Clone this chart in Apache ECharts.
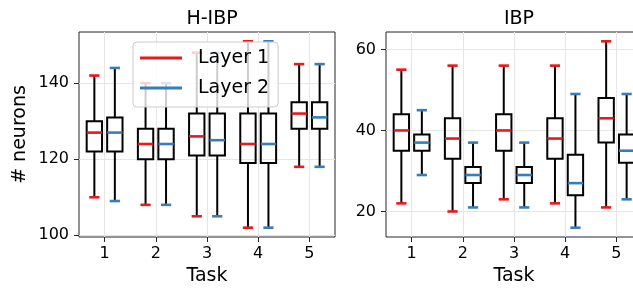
<!DOCTYPE html>
<html>
<head>
<meta charset="utf-8">
<script src="https://cdn.jsdelivr.net/npm/echarts@6/dist/echarts.min.js"></script>
<style>html,body{margin:0;padding:0;background:#fff}#c{width:633px;height:289px}</style>
</head>
<body>
<div id="c"></div>
<script>
// Each entry: [lower whisker, Q1, median, Q3, upper whisker] per task
const tasks = [1, 2, 3, 4, 5];
const taskLabels = ['1', '2', '3', '4', '5'];
const hibpLayer1 = [[110,122,127,130,142],[108,120,124,128,140],[105,121,126,132,148],[102,119,124,132,151],[118,128,132,135,145]];
const hibpLayer2 = [[109,122,127,131,144],[108,120,124,128,140],[105,121,125,132,148],[102,119,124,132,151],[118,128,131,135,145]];
const ibpLayer1 = [[22,35,40,44,55],[20,33,38,43,56],[23,35,40,44,56],[22,33,38,43,56],[21,37,43,48,62]];
const ibpLayer2 = [[29,35,37,39,45],[21,27,29,31,37],[21,27,29,31,37],[16,24,27,34,49],[23,32,35,39,49]];
const hibpTicks = [100, 120, 140];
const ibpTicks = [20, 40, 60];
const titles = ['H-IBP', 'IBP'];
const seriesNames = ['Layer 1', 'Layer 2'];

const FONT = 'DejaVu Sans';
const RED = '#e41a1c', BLUE = '#377eb8';

function rows(stats) { return tasks.map((t, i) => [t].concat(stats[i])); }

function makeRender(offset) {
  return function (params, api) {
    const x = api.value(0) + offset;
    const lo = api.coord([x, api.value(1)]);
    const q1 = api.coord([x, api.value(2)]);
    const md = api.coord([x, api.value(3)]);
    const q3 = api.coord([x, api.value(4)]);
    const hi = api.coord([x, api.value(5)]);
    const hb = api.size([0.15, 0])[0];
    const hc = api.size([0.1, 0])[0];
    const col = api.visual('color');
    const blk = { stroke: '#000', lineWidth: 2, fill: null };
    return {
      type: 'group',
      children: [
        { type: 'line', shape: { x1: hi[0], y1: hi[1], x2: q3[0], y2: q3[1] }, style: blk },
        { type: 'line', shape: { x1: lo[0], y1: lo[1], x2: q1[0], y2: q1[1] }, style: blk },
        { type: 'rect', shape: { x: q3[0] - hb, y: q3[1], width: 2 * hb, height: q1[1] - q3[1] }, style: { stroke: '#000', lineWidth: 2, fill: 'rgba(0,0,0,0)' } },
        { type: 'line', shape: { x1: md[0] - hb, y1: md[1], x2: md[0] + hb, y2: md[1] }, style: { stroke: col, lineWidth: 2.6 } },
        { type: 'line', shape: { x1: hi[0] - hc, y1: hi[1], x2: hi[0] + hc, y2: hi[1] }, style: { stroke: col, lineWidth: 2.6 } },
        { type: 'line', shape: { x1: lo[0] - hc, y1: lo[1], x2: lo[0] + hc, y2: lo[1] }, style: { stroke: col, lineWidth: 2.6 } }
      ]
    };
  };
}

const grids = [
  { left: 79, top: 32, width: 256, height: 205, show: true, borderColor: '#262626', borderWidth: 1, outerBoundsMode: 'none', containLabel: false },
  { left: 386, top: 32, width: 256, height: 205, show: true, borderColor: '#262626', borderWidth: 1, outerBoundsMode: 'none', containLabel: false }
];

function xAxis(gi) {
  return {
    type: 'value', gridIndex: gi, min: 0.5, max: 5.5,
    name: 'Task', nameLocation: 'middle', nameGap: 30,
    nameTextStyle: { fontFamily: FONT, fontSize: 19, color: '#000' },
    axisLine: { show: false },
    axisTick: { show: true, inside: false, length: 5, customValues: tasks, lineStyle: { color: '#262626', width: 1 } },
    axisLabel: { customValues: tasks, formatter: v => taskLabels[tasks.indexOf(v)], margin: 9, fontFamily: FONT, fontSize: 16, color: '#000' },
    splitLine: { show: true, lineStyle: { color: '#e6e6e6', width: 1 } }
  };
}
function yAxis(gi, min, max, ticks, name) {
  return {
    type: 'value', gridIndex: gi, min: min, max: max,
    name: name, nameLocation: 'middle', nameGap: 49, nameRotate: 90,
    nameTextStyle: { fontFamily: FONT, fontSize: 19, color: '#000' },
    axisLine: { show: false },
    axisTick: { show: true, inside: false, length: 5, customValues: ticks, lineStyle: { color: '#262626', width: 1 } },
    axisLabel: { customValues: ticks, margin: 10, fontFamily: FONT, fontSize: 16, color: '#000' },
    splitLine: { show: true, lineStyle: { color: '#e6e6e6', width: 1 } }
  };
}

const option = {
  animation: false,
  backgroundColor: '#fff',
  title: [
    { text: titles[0], left: 207, top: 5, textAlign: 'center', textStyle: { fontFamily: FONT, fontSize: 19, fontWeight: 'normal', color: '#000' } },
    { text: titles[1], left: 514, top: 5, textAlign: 'center', textStyle: { fontFamily: FONT, fontSize: 19, fontWeight: 'normal', color: '#000' } }
  ],
  grid: grids,
  xAxis: [xAxis(0), xAxis(1)],
  yAxis: [yAxis(0, 99.55, 153.45, hibpTicks, '# neurons'), yAxis(1, 13.7, 64.3, ibpTicks, '')],
  legend: {
    data: seriesNames,
    orient: 'vertical', left: 133, top: 42,
    icon: 'rect', itemWidth: 42, itemHeight: 3, itemGap: 8,
    padding: [5, 9, 8, 7],
    backgroundColor: 'rgba(255,255,255,0.8)', borderColor: '#cccccc', borderWidth: 1, borderRadius: 4,
    textStyle: { fontFamily: FONT, fontSize: 19, color: '#000', lineHeight: 22, padding: [0, 0, 0, 11] }
  },
  series: [
    { name: seriesNames[0], type: 'custom', xAxisIndex: 0, yAxisIndex: 0, itemStyle: { color: RED }, renderItem: makeRender(-0.2), data: rows(hibpLayer1), encode: { x: 0, y: [1, 2, 3, 4, 5] } },
    { name: seriesNames[1], type: 'custom', xAxisIndex: 0, yAxisIndex: 0, itemStyle: { color: BLUE }, renderItem: makeRender(0.2), data: rows(hibpLayer2), encode: { x: 0, y: [1, 2, 3, 4, 5] } },
    { name: seriesNames[0], type: 'custom', xAxisIndex: 1, yAxisIndex: 1, itemStyle: { color: RED }, renderItem: makeRender(-0.2), data: rows(ibpLayer1), encode: { x: 0, y: [1, 2, 3, 4, 5] } },
    { name: seriesNames[1], type: 'custom', xAxisIndex: 1, yAxisIndex: 1, itemStyle: { color: BLUE }, renderItem: makeRender(0.2), data: rows(ibpLayer2), encode: { x: 0, y: [1, 2, 3, 4, 5] } }
  ]
};
const chart = echarts.init(document.getElementById('c'));
chart.setOption(option);
</script>
</body>
</html>
